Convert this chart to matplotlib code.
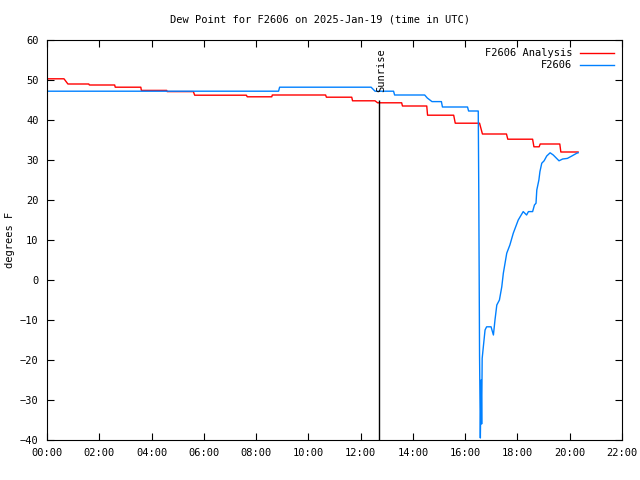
import numpy as np
import matplotlib.pyplot as plt

# dew point readings, time in hours UTC
analysis_t = [0.0, 0.03, 0.65, 0.80, 1.60, 1.62, 2.59, 2.61, 3.59, 3.61, 4.58, 4.60,
              5.60, 5.65, 7.63, 7.66, 8.60, 8.62, 10.66, 10.69, 11.66, 11.69, 12.55,
              12.65, 13.57, 13.60, 14.53, 14.56, 15.56, 15.62, 16.55, 16.66, 17.58,
              17.63, 18.58, 18.63, 18.83, 18.87, 19.62, 19.66, 20.32]
analysis_v = [49.8, 50.3, 50.3, 49.0, 49.0, 48.75, 48.75, 48.2, 48.2, 47.4, 47.4, 47.1,
              47.1, 46.2, 46.2, 45.8, 45.8, 46.25, 46.25, 45.7, 45.7, 44.8, 44.8,
              44.3, 44.3, 43.5, 43.5, 41.2, 41.2, 39.2, 39.2, 36.5, 36.5,
              35.2, 35.2, 33.3, 33.3, 34.0, 34.0, 32.0, 32.0]

obs_t = [0.0, 8.86, 8.90, 12.40, 12.55, 13.26, 13.30, 14.45, 14.55, 14.73, 15.09,
         15.13, 16.09, 16.13, 16.50, 16.52, 16.55, 16.58, 16.61, 16.63, 16.65, 16.69,
         16.76, 16.82, 16.99, 17.08, 17.14, 17.21, 17.31, 17.40, 17.46, 17.59, 17.71,
         17.84, 18.03, 18.22, 18.35, 18.42, 18.58, 18.65, 18.71, 18.74, 18.82, 18.86,
         18.93, 19.02, 19.12, 19.25, 19.37, 19.59, 19.73, 19.91, 20.08, 20.27, 20.32]
obs_v = [47.2, 47.2, 48.2, 48.2, 47.2, 47.2, 46.25, 46.25, 45.5, 44.6, 44.6,
         43.25, 43.25, 42.25, 42.25, 22.0, -19.0, -39.5, -25.0, -36.0, -19.6, -17.0,
         -12.5, -11.7, -11.7, -13.75, -10.0, -6.25, -5.0, -1.7, 1.7, 6.7, 8.75,
         11.7, 15.0, 17.1, 16.25, 17.1, 17.1, 18.75, 19.2, 22.5, 25.0, 27.1,
         29.2, 29.8, 31.0, 31.8, 31.25, 29.8, 30.25, 30.4, 31.0, 31.7, 31.8]

sunrise = 12.70
x_ticks = np.arange(0, 23, 2)
x_labels = [f"{h:02d}:00" for h in x_ticks]
y_ticks = np.arange(-40, 61, 10)

plt.rcParams['font.family'] = 'DejaVu Sans Mono'
plt.rcParams['font.size'] = 7.5

fig = plt.figure(figsize=(6.4, 4.8), dpi=100)
ax = fig.add_axes([47/640, 40/480, 575/640, 400/480])

ax.plot(analysis_t, analysis_v, color='#ff0000', lw=1.0, label='F2606 Analysis')
ax.plot(obs_t, obs_v, color='#0080ff', lw=1.0, label='F2606')

ax.vlines(sunrise, -40, 45, color='black', lw=1.0)
ax.text(sunrise + 0.08, 58, 'Sunrise', rotation=90, ha='center', va='top')

ax.set_xlim(0, 22)
ax.set_ylim(-40, 60)
ax.set_xticks(x_ticks)
ax.set_xticklabels(x_labels)
ax.set_yticks(y_ticks)
ax.tick_params(direction='in', top=True, right=True, length=5, width=0.8, pad=6)
ax.set_ylabel('degrees F')
ax.yaxis.set_label_coords(-0.056, 0.5)
fig.text(0.5, 1 - 20/480, 'Dew Point for F2606 on 2025-Jan-19 (time in UTC)',
         ha='center', va='center')

ax.legend(loc='upper right', frameon=False, markerfirst=False, handlelength=3.2,
          borderaxespad=0.4, labelspacing=0.2, handletextpad=0.8)

fig.savefig('out.png', dpi=100)
